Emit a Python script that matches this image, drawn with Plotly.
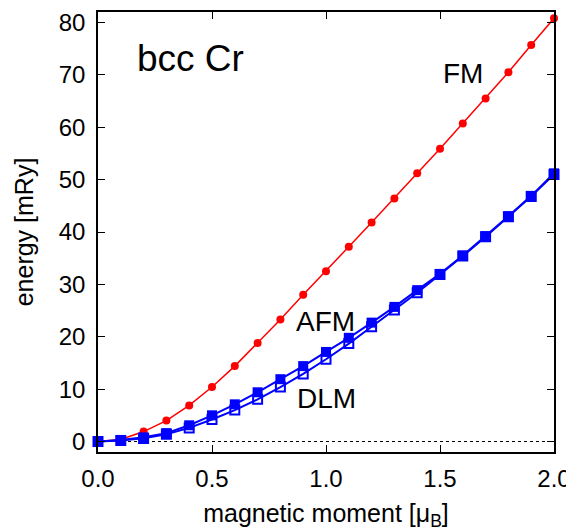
import plotly.graph_objects as go

moment = [0.0, 0.1, 0.2, 0.3, 0.4, 0.5, 0.6, 0.7, 0.8, 0.9, 1.0,
          1.1, 1.2, 1.3, 1.4, 1.5, 1.6, 1.7, 1.8, 1.9, 2.0]
fm = [0.0, 0.4, 1.9, 4.0, 6.9, 10.4, 14.4, 18.8, 23.3, 28.0, 32.5,
      37.2, 41.8, 46.4, 51.2, 55.9, 60.7, 65.5, 70.5, 75.7, 80.8]
afm = [0.0, 0.3, 0.8, 1.6, 3.1, 5.0, 7.1, 9.4, 11.9, 14.4, 17.1,
       19.8, 22.7, 25.7, 28.9, 32.0, 35.5, 39.2, 43.0, 46.9, 51.2]
dlm = [0.0, 0.2, 0.6, 1.4, 2.6, 4.2, 6.0, 8.05, 10.4, 12.9, 15.7,
       18.7, 21.9, 25.1, 28.4, 31.9, 35.4, 39.1, 42.9, 46.8, 51.0]
x_ticks = [0.0, 0.5, 1.0, 1.5, 2.0]
y_ticks = [0, 10, 20, 30, 40, 50, 60, 70, 80]

FONT = "Liberation Sans, Arial, sans-serif"

fig = go.Figure()

# zero reference line
fig.add_trace(go.Scatter(x=[0.0, 2.0], y=[0, 0], mode="lines",
                         line=dict(color="black", width=1, dash="dot"),
                         showlegend=False, hoverinfo="skip"))

fig.add_trace(go.Scatter(x=moment, y=fm, mode="lines+markers", name="FM",
                         line=dict(color="#ff0000", width=1.5),
                         marker=dict(symbol="circle", size=8, color="#ff0000"),
                         cliponaxis=False, showlegend=False))
fig.add_trace(go.Scatter(x=moment, y=dlm, mode="lines+markers", name="DLM",
                         line=dict(color="#0000ff", width=2),
                         marker=dict(symbol="square-open", size=9, color="#0000ff",
                                     line=dict(color="#0000ff", width=2)),
                         cliponaxis=False, showlegend=False))
fig.add_trace(go.Scatter(x=moment, y=afm, mode="lines+markers", name="AFM",
                         line=dict(color="#0000ff", width=2),
                         marker=dict(symbol="square", size=10, color="#0000ff"),
                         cliponaxis=False, showlegend=False))

annots = [
    dict(x=0.406, y=73.1, text="bcc Cr", size=37),
    dict(x=1.601, y=70.3, text="FM", size=28),
    dict(x=0.996, y=23.0, text="AFM", size=28),
    dict(x=1.0, y=8.3, text="DLM", size=28),
]
for a in annots:
    fig.add_annotation(x=a["x"], y=a["y"], xref="x", yref="y", text=a["text"],
                       showarrow=False, yanchor="middle",
                       font=dict(family=FONT, size=a["size"], color="black"))

axis_common = dict(showline=True, linecolor="black", linewidth=1.5, mirror="allticks",
                   ticks="inside", ticklen=7, tickwidth=1, tickcolor="black",
                   showgrid=False, zeroline=False, automargin=False,
                   tickfont=dict(family=FONT, size=24, color="black"))

fig.update_xaxes(range=[0, 2.0], tickvals=x_ticks, ticktext=[f"{v:.1f}" for v in x_ticks],
                 title=dict(text="magnetic moment [μ<sub>B</sub>]",
                            font=dict(family=FONT, size=25, color="black"), standoff=14),
                 ticklabelstandoff=4, **axis_common)
fig.update_yaxes(range=[-2, 82], tickvals=y_ticks,
                 title=dict(text="energy [mRy]",
                            font=dict(family=FONT, size=25, color="black"), standoff=18),
                 ticklabelstandoff=6, **axis_common)

# page has an 8px body margin, so the figure is sized to end at the window edge
fig.update_layout(width=566, height=523,
                  margin=dict(l=90, r=20, t=4, b=79),
                  plot_bgcolor="white", paper_bgcolor="white",
                  font=dict(family=FONT, color="black"))

fig.write_html("out.html")
